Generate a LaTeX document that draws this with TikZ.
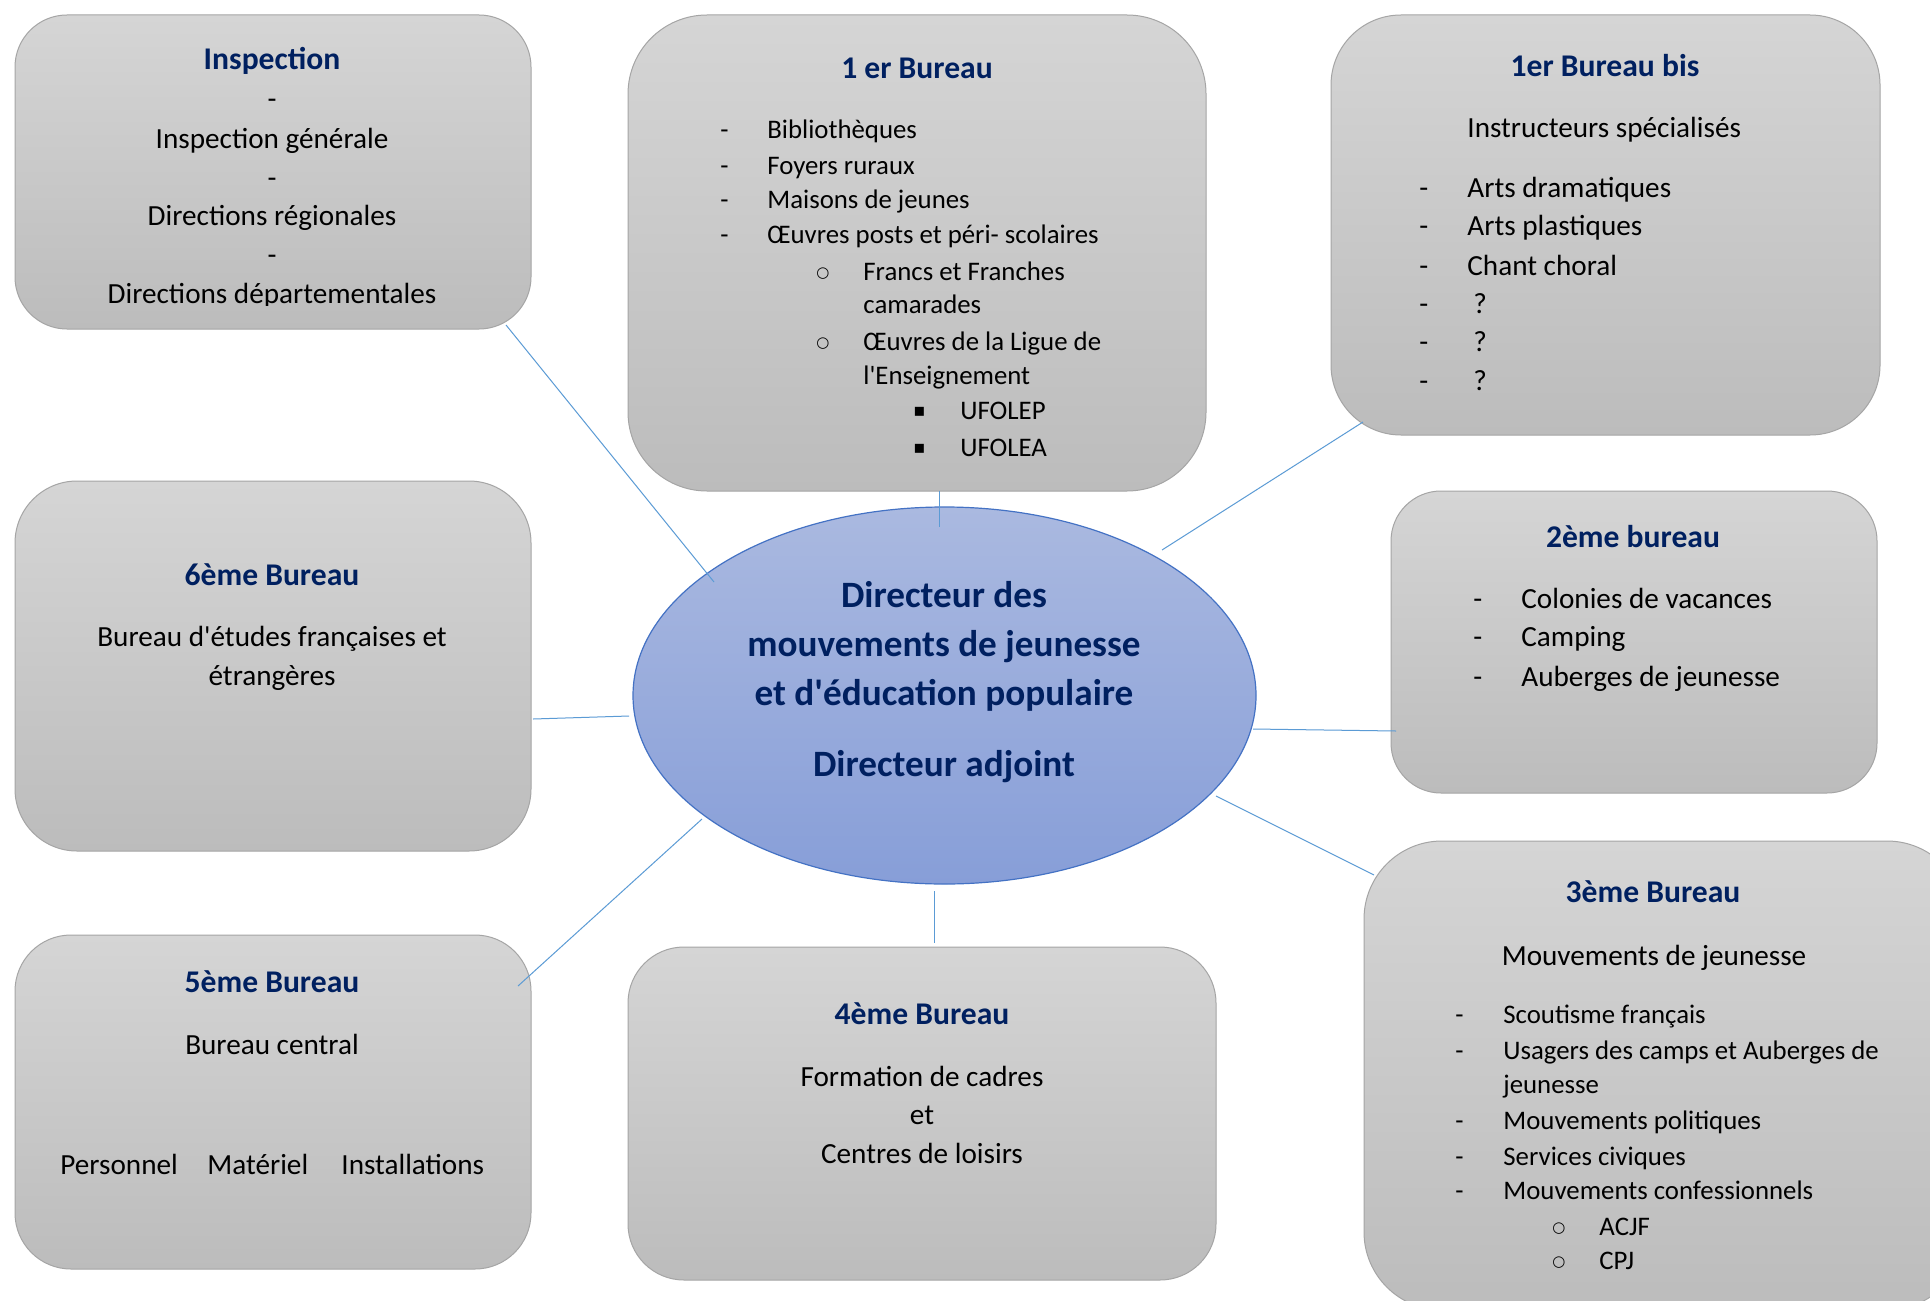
\documentclass[tikz,border=0pt]{standalone}
\usepackage{fontspec}
\setmainfont{Carlito}
\newfontfamily\calf{Carlito}
\newfontfamily\dejavu{DejaVu Sans}
\usetikzlibrary{shapes.geometric}
\definecolor{navy}{HTML}{002060}
\definecolor{gtop}{HTML}{D5D5D5}
\definecolor{gbot}{HTML}{BCBCBC}
\definecolor{boxline}{HTML}{A5A5A5}
\definecolor{etop}{HTML}{AAB9E0}
\definecolor{ebot}{HTML}{879ED8}
\definecolor{eline}{HTML}{4472C4}
\definecolor{conn}{HTML}{5B9BD5}
\newcommand\fttl{\calf\fontsize{15.8}{19}\bfseries\selectfont}
\newcommand\fbody{\calf\fontsize{14.6}{17}\selectfont}
\newcommand\flist{\calf\fontsize{13.4}{16}\selectfont}
\newcommand\fctr{\calf\fontsize{18.6}{22}\bfseries\selectfont}
\newcommand\circb{{\dejavu\fontsize{7.5}{9}\selectfont ○}}
\newcommand\sqb{{\dejavu\fontsize{9}{10}\selectfont ▪}}
\tikzset{
  box/.style={draw=boxline, line width=0.5pt, top color=gtop, bottom color=gbot, inner sep=0pt},
  ttl/.style={font=\fttl, text=navy, anchor=mid, inner sep=0pt},
  ctr/.style={font=\fctr, text=navy, anchor=mid, inner sep=0pt},
  bc/.style={font=\fbody, anchor=mid, inner sep=0pt},
  bl/.style={font=\fbody, anchor=mid west, inner sep=0pt},
  ll/.style={font=\flist, anchor=mid west, inner sep=0pt},
  bul/.style={anchor=mid west, inner sep=0pt},
  conline/.style={draw=conn, line width=0.5pt},
}
\begin{document}
\begin{tikzpicture}[x=0.5pt,y=-0.5pt]
\clip (0,0) rectangle (1930,1300);
\fill[white] (0,0) rectangle (1930,1300);

% boxes
\node[box, rounded corners=26pt, minimum width=258pt, minimum height=157pt] (insp) at (273,172) {};
\node[box, rounded corners=39.5pt, minimum width=289pt, minimum height=238pt] (b1) at (917,253) {};
\node[box, rounded corners=35pt, minimum width=274.5pt, minimum height=210pt] (b1bis) at (1605.5,225) {};
\node[box, rounded corners=31pt, minimum width=258pt, minimum height=185pt] (b6) at (273,666) {};
\node[box, rounded corners=25pt, minimum width=243pt, minimum height=151pt] (b2) at (1634,642) {};
\node[box, rounded corners=39pt, minimum width=300.5pt, minimum height=234.5pt] (b3) at (1664.5,1075.5) {};
\node[box, rounded corners=28pt, minimum width=258pt, minimum height=167pt] (b5) at (273,1102) {};
\node[box, rounded corners=28pt, minimum width=294pt, minimum height=166.5pt] (b4) at (922,1113.5) {};

% central ellipse
\node[ellipse, draw=eline, line width=0.6pt, top color=etop, bottom color=ebot, minimum width=311.5pt, minimum height=188.5pt, inner sep=0pt] (dir) at (944.5,695.5) {};

\begin{scope}[shift={(0,6)}]
\node[ctr] (d1) at (944,597) {Directeur des};
\node[ctr] (d2) at (944,646) {mouvements de jeunesse};
\node[ctr] (d3) at (944,695) {et d'éducation populaire};
\node[ctr] (d4) at (944,766) {Directeur adjoint};

% Inspection
\node[ttl] (it) at (272,59) {Inspection};
\node[bc] (i1) at (272,98) {-};
\node[bc] (i2) at (272,138) {Inspection générale};
\node[bc] (i3) at (272,177) {-};
\node[bc] (i4) at (272,215) {Directions régionales};
\node[bc] (i5) at (272,254) {-};
\end{scope}
\begin{scope}
\clip (0,0) rectangle (1930,305);
\node[font=\fbody, anchor=base, inner sep=0pt] (i6) at (272,303) {Directions départementales};
\end{scope}

\begin{scope}[shift={(0,6)}]
% 1er Bureau
\node[ttl] (at) at (917,68) {1 er Bureau};
\node[ll] (a1d) at (720,128) {-};
\node[ll] (a1) at (767,128) {Bibliothèques};
\node[ll] (a2d) at (720,164) {-};
\node[ll] (a2) at (767,164) {Foyers ruraux};
\node[ll] (a3d) at (720,198) {-};
\node[ll] (a3) at (767,198) {Maisons de jeunes};
\node[ll] (a4d) at (720,233) {-};
\node[ll] (a4) at (767,233) {Œuvres posts et péri- scolaires};
\node[bul] (a5b) at (816,267) {\circb};
\node[ll] (a5) at (863,270) {Francs et Franches};
\node[ll] (a6) at (863,303) {camarades};
\node[bul] (a7b) at (816,337) {\circb};
\node[ll] (a7) at (863,340) {Œuvres de la Ligue de};
\node[ll] (a8) at (863,374) {l'Enseignement};
\node[bul] (a9b) at (913,406) {\sqb};
\node[ll] (a9) at (960,409) {UFOLEP};
\node[bul] (a10b) at (913,443) {\sqb};
\node[ll] (a10) at (960,446) {UFOLEA};

% 1er Bureau bis
\node[ttl] (bt) at (1605,66) {1er Bureau bis};
\node[bl] (bs) at (1467,127) {Instructeurs spécialisés};
\node[bl] (b1d) at (1419,187) {-};
\node[bl] (bb1) at (1467,187) {Arts dramatiques};
\node[bl] (b2d) at (1419,225) {-};
\node[bl] (bb2) at (1467,225) {Arts plastiques};
\node[bl] (b3d) at (1419,265) {-};
\node[bl] (bb3) at (1467,265) {Chant choral};
\node[bl] (b4d) at (1419,303) {-};
\node[bl] (bb4) at (1473,303) {?};
\node[bl] (b5d) at (1419,341) {-};
\node[bl] (bb5) at (1473,341) {?};
\node[bl] (b6d) at (1419,380) {-};
\node[bl] (bb6) at (1473,380) {?};

% 6eme
\node[ttl] (st) at (272,575) {6ème Bureau};
\node[bc] (s1) at (272,636) {Bureau d'études françaises et};
\node[bc] (s2) at (272,675) {étrangères};

% 2eme
\node[ttl] (ct) at (1633,537) {2ème bureau};
\node[bl] (c1d) at (1473,598) {-};
\node[bl] (c1) at (1521,598) {Colonies de vacances};
\node[bl] (c2d) at (1473,636) {-};
\node[bl] (c2) at (1521,636) {Camping};
\node[bl] (c3d) at (1473,676) {-};
\node[bl] (c3) at (1521,676) {Auberges de jeunesse};

% 3eme
\node[ttl] (tt) at (1653,892) {3ème Bureau};
\node[bc] (ts) at (1654,955) {Mouvements de jeunesse};
\node[ll] (t1d) at (1455,1013) {-};
\node[ll] (t1) at (1503,1013) {Scoutisme français};
\node[ll] (t2d) at (1455,1049) {-};
\node[ll] (t2) at (1503,1049) {Usagers des camps et Auberges de};
\node[ll] (t3) at (1503,1083) {jeunesse};
\node[ll] (t4d) at (1455,1119) {-};
\node[ll] (t4) at (1503,1119) {Mouvements politiques};
\node[ll] (t5d) at (1455,1155) {-};
\node[ll] (t5) at (1503,1155) {Services civiques};
\node[ll] (t6d) at (1455,1189) {-};
\node[ll] (t6) at (1503,1189) {Mouvements confessionnels};
\node[bul] (t7b) at (1552,1222) {\circb};
\node[ll] (t7) at (1599,1225) {ACJF};
\node[bul] (t8b) at (1552,1256) {\circb};
\node[ll] (t8) at (1599,1259) {CPJ};

% 5eme
\node[ttl] (ft) at (272,982) {5ème Bureau};
\node[bc] (f1) at (272,1044) {Bureau central};
\node[bl] (f2) at (60,1164) {Personnel};
\node[bl] (f3) at (207,1164) {Matériel};
\node[bl] (f4) at (341,1164) {Installations};

% 4eme
\node[ttl] (qt) at (922,1014) {4ème Bureau};
\node[bc] (q1) at (922,1076) {Formation de cadres};
\node[bc] (q2) at (922,1114) {et};
\node[bc] (q3) at (922,1153) {Centres de loisirs};
\end{scope}

% connectors
\coordinate (c1a) at (506,325); \coordinate (c1b) at (714,582);
\coordinate (c2a) at (939,491); \coordinate (c2b) at (939,527);
\coordinate (c3a) at (1363,422); \coordinate (c3b) at (1162,550);
\coordinate (c4a) at (533,719); \coordinate (c4b) at (629,716);
\coordinate (c5a) at (1253,729); \coordinate (c5b) at (1396,731);
\coordinate (c6a) at (1216,796); \coordinate (c6b) at (1374,875);
\coordinate (c7a) at (518,986); \coordinate (c7b) at (702,819);
\coordinate (c8a) at (934,891); \coordinate (c8b) at (934,943);
\draw[conline] (c1a) -- (c1b);
\draw[conline] (c2a) -- (c2b);
\draw[conline] (c3a) -- (c3b);
\draw[conline] (c4a) -- (c4b);
\draw[conline] (c5a) -- (c5b);
\draw[conline] (c6a) -- (c6b);
\draw[conline] (c7a) -- (c7b);
\draw[conline] (c8a) -- (c8b);
\end{tikzpicture}
\end{document}
